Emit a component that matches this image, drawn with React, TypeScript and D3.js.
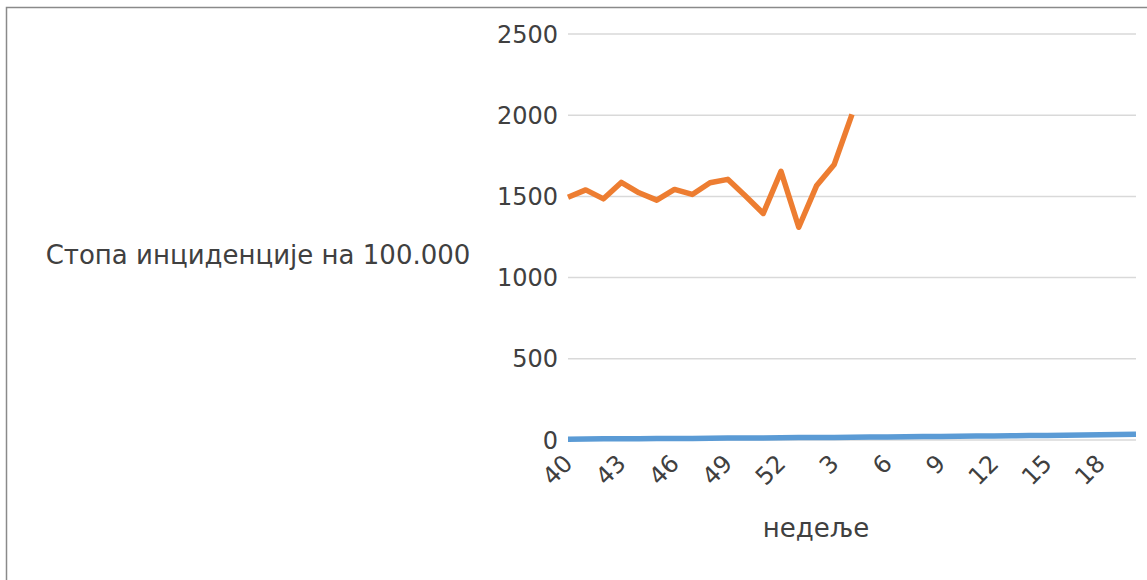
import React from "react";
import * as d3 from "d3";

// calendar weeks shown on the category axis (season 40 -> 20)
const weeks: string[] = [
  "40", "41", "42", "43", "44", "45", "46", "47", "48", "49", "50", "51", "52",
  "1", "2", "3", "4", "5", "6", "7", "8", "9", "10", "11", "12", "13", "14",
  "15", "16", "17", "18", "19", "20",
];

// current season, only reported up to week 4
const orangeValues: number[] = [
  1495, 1540, 1485, 1586, 1522, 1477, 1543, 1512, 1584, 1605, 1502, 1395, 1654,
  1310, 1565, 1697, 2005,
];

const blueValues: number[] = [
  5, 6, 7, 7, 8, 9, 10, 10, 11, 12, 12, 13, 14, 15, 15, 16, 17, 18, 19, 20, 21,
  22, 23, 24, 25, 26, 27, 28, 30, 31, 32, 34, 36,
];

const yTicks: number[] = [0, 500, 1000, 1500, 2000, 2500];
const xTickLabels: string[] = ["40", "43", "46", "49", "52", "3", "6", "9", "12", "15", "18"];

const W = 1147;
const H = 580;
const font = "'DejaVu Sans', sans-serif";
const textColor = "#404040";

const App: React.FC = () => {
  const x = d3.scalePoint<string>().domain(weeks).range([568, 1136]);
  const y = d3.scaleLinear().domain([0, 2500]).range([440, 34]);

  const line = d3
    .line<number>()
    .x((_, i) => x(weeks[i]) ?? 0)
    .y((d) => y(d));

  return (
    <svg
      width={W}
      height={H}
      style={{ position: "absolute", left: 0, top: 0, background: "white" }}
    >
      <rect x={6.5} y={7.5} width={1200} height={700} fill="white" stroke="#8a8a8a" strokeWidth={1.5} />

      {/* gridlines + y labels */}
      {yTicks.map((t) => (
        <g key={t}>
          <line x1={568} x2={1136} y1={y(t)} y2={y(t)} stroke="#d9d9d9" strokeWidth={1.5} />
          <text
            x={558}
            y={y(t)}
            dy="0.36em"
            textAnchor="end"
            fontFamily={font}
            fontSize={24}
            fill={textColor}
          >
            {t}
          </text>
        </g>
      ))}

      <path d={line(blueValues) ?? ""} fill="none" stroke="#5b9bd5" strokeWidth={5.5} strokeLinejoin="round" />
      <path d={line(orangeValues) ?? ""} fill="none" stroke="#ed7d31" strokeWidth={5.5} strokeLinejoin="round" />

      {/* rotated week labels */}
      {xTickLabels.map((w) => {
        const px = (x(w) ?? 0) + 6;
        const py = 465;
        return (
          <text
            key={w}
            x={px}
            y={py}
            transform={`rotate(-45, ${px}, ${py})`}
            textAnchor="end"
            fontFamily={font}
            fontSize={24}
            fill={textColor}
          >
            {w}
          </text>
        );
      })}

      <text x={258} y={255} dy="0.36em" textAnchor="middle" fontFamily={font} fontSize={26} fill={textColor}>
        Стопа инциденције на 100.000
      </text>
      <text x={816} y={528} dy="0.36em" textAnchor="middle" fontFamily={font} fontSize={26} fill={textColor}>
        недеље
      </text>
    </svg>
  );
};

export default App;
